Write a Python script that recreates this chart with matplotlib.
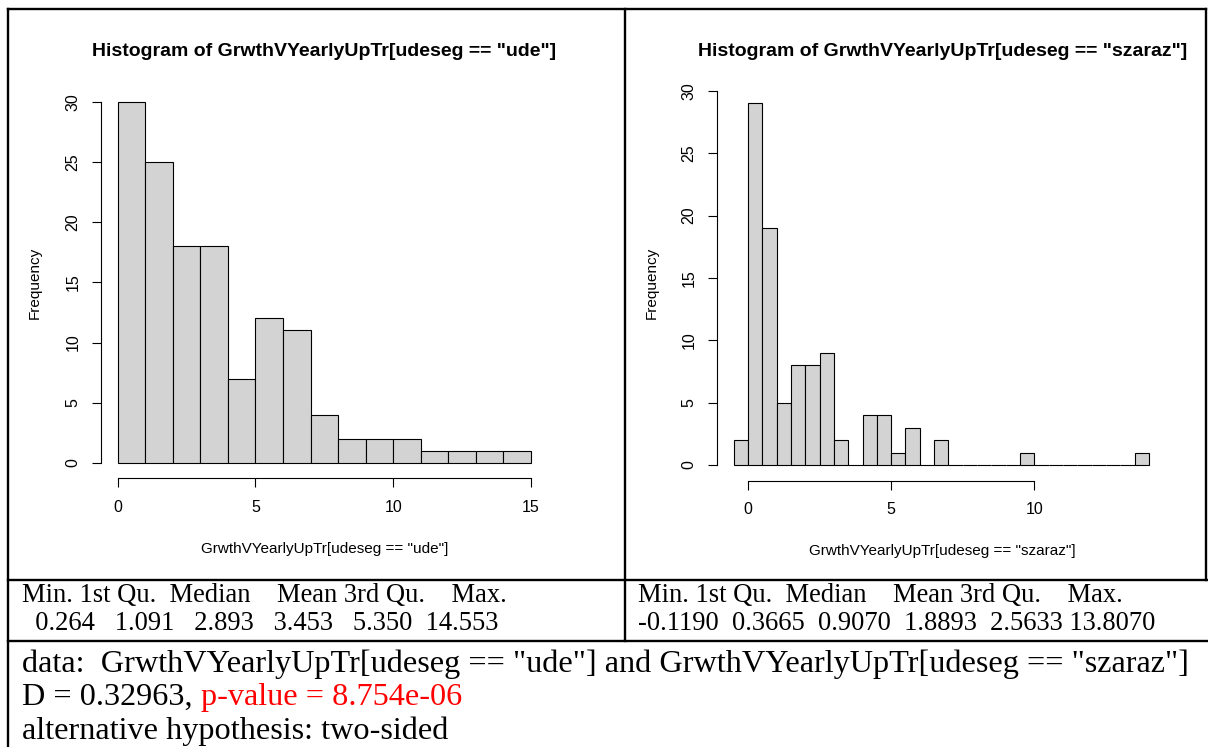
import matplotlib

matplotlib.use("Agg")

import matplotlib.pyplot as plt


WIDTH_PX = 1208
HEIGHT_PX = 747
DPI = 100

UDE_EDGES = [0, 1, 2, 3, 4, 5, 6, 7, 8, 9, 10, 11, 12, 13, 14, 15]
UDE_COUNTS = [30, 25, 18, 18, 7, 12, 11, 4, 2, 2, 2, 1, 1, 1, 1]

SZARAZ_EDGES = [-0.5, 0.0, 0.5, 1.0, 1.5, 2.0, 2.5, 3.0, 3.5, 4.0, 4.5, 5.0, 5.5, 6.0, 6.5,
                7.0, 7.5, 8.0, 8.5, 9.0, 9.5, 10.0, 10.5, 11.0, 11.5, 12.0, 12.5, 13.0, 13.5, 14.0]
SZARAZ_COUNTS = [2, 29, 19, 5, 8, 8, 9, 2, 0, 4, 4, 1, 3, 0, 2,
                 0, 0, 0, 0, 0, 1, 0, 0, 0, 0, 0, 0, 0, 1]

UDE_XTICKS = [0, 5, 10, 15]
SZARAZ_XTICKS = [0, 5, 10]
FREQ_TICKS = [0, 5, 10, 15, 20, 25, 30]

UDE_NAME = 'GrwthVYearlyUpTr[udeseg == "ude"]'
SZARAZ_NAME = 'GrwthVYearlyUpTr[udeseg == "szaraz"]'

SUMMARY_LABELS = ["Min.", "1st Qu.", "Median", "Mean", "3rd Qu.", "Max."]
UDE_SUMMARY = ["0.264", "1.091", "2.893", "3.453", "5.350", "14.553"]
SZARAZ_SUMMARY = ["-0.1190", "0.3665", "0.9070", "1.8893", "2.5633", "13.8070"]

KS_STATISTIC = "0.32963"
KS_P_VALUE = "8.754e-06"
KS_ALTERNATIVE = "two-sided"

SANS = "Liberation Sans"
SERIF = "Liberation Serif"
BAR_FILL = "#d3d3d3"


def add_px_axes(fig, left, top, right, bottom):
    return fig.add_axes([left / WIDTH_PX, 1 - bottom / HEIGHT_PX,
                         (right - left) / WIDTH_PX, (bottom - top) / HEIGHT_PX])


def r_row(values):
    # R prints a named vector with one common column width
    return " ".join(v.rjust(7) for v in values)


def draw_hist(ax, edges, counts, xticks, xlim, ylim):
    widths = [edges[i + 1] - edges[i] for i in range(len(counts))]
    ax.bar(edges[:-1], counts, width=widths, align="edge", color=BAR_FILL,
           edgecolor="black", linewidth=0.8)
    ax.set_xlim(*xlim)
    ax.set_ylim(*ylim)
    ax.set_facecolor("none")
    ax.spines["top"].set_visible(False)
    ax.spines["right"].set_visible(False)
    ax.spines["left"].set_bounds(FREQ_TICKS[0], FREQ_TICKS[-1])
    ax.spines["bottom"].set_bounds(xticks[0], xticks[-1])
    for side in ("left", "bottom"):
        ax.spines[side].set_linewidth(0.8)
    ax.set_xticks(xticks)
    ax.set_yticks(FREQ_TICKS)
    ax.tick_params(direction="out", length=6.5, width=0.8, labelsize=11.5)
    ax.tick_params(axis="x", pad=9)
    ax.tick_params(axis="y", pad=8, labelrotation=90)
    for lbl in ax.get_yticklabels():
        lbl.set_va("center")
    for lbl in ax.get_xticklabels() + ax.get_yticklabels():
        lbl.set_fontfamily(SANS)


def main():
    fig = plt.figure(figsize=(WIDTH_PX / DPI, HEIGHT_PX / DPI), dpi=DPI)

    canvas = fig.add_axes([0, 0, 1, 1])
    canvas.set_xlim(0, WIDTH_PX)
    canvas.set_ylim(HEIGHT_PX, 0)
    canvas.axis("off")

    # table rules
    rule = dict(color="black", linewidth=1.7, solid_capstyle="projecting")
    canvas.plot([7.5, 7.5], [8.5, HEIGHT_PX], **rule)
    canvas.plot([7.5, 1206], [8.5, 8.5], **rule)
    canvas.plot([1206, 1206], [8.5, 579.5], **rule)
    canvas.plot([624.5, 624.5], [8.5, 641], **rule)
    canvas.plot([7.5, WIDTH_PX], [579.5, 579.5], **rule)
    canvas.plot([7.5, WIDTH_PX], [641, 641], **rule)

    left_ax = add_px_axes(fig, 100.8, 86.8, 547.8, 478)
    draw_hist(left_ax, UDE_EDGES, UDE_COUNTS, UDE_XTICKS, (-0.61, 15.61), (-1.27, 31.27))

    right_ax = add_px_axes(fig, 716.7, 84.7, 1165.9, 480.7)
    draw_hist(right_ax, SZARAZ_EDGES, SZARAZ_COUNTS, SZARAZ_XTICKS, (-1.09, 14.59), (-1.26, 30.5))

    panels = [(324.5, 549, 35, UDE_NAME), (942.5, 551, 652, SZARAZ_NAME)]
    for cx, xlab_y, ylab_x, name in panels:
        canvas.text(cx, 52, f"Histogram of {name}", ha="center", va="center",
                    fontsize=14, fontweight="bold", family=SANS)
        canvas.text(cx, xlab_y, name, ha="center", va="center", fontsize=11, family=SANS)
        canvas.text(ylab_x, 283, "Frequency", ha="center", va="center", rotation=90,
                    fontsize=11, family=SANS)

    # summary() output rows
    summary_font = dict(fontsize=19.1, family=SERIF)
    header = r_row(SUMMARY_LABELS).lstrip()
    canvas.text(22, 595, header, ha="left", va="center", **summary_font)
    canvas.text(22, 623, r_row(UDE_SUMMARY), ha="left", va="center", **summary_font)
    canvas.text(638, 595, header, ha="left", va="center", **summary_font)
    canvas.text(638, 623, r_row(SZARAZ_SUMMARY), ha="left", va="center", **summary_font)

    # ks.test() output
    ks_font = dict(fontsize=23.2, family=SERIF)
    canvas.text(22, 664, f"data:  {UDE_NAME} and {SZARAZ_NAME}", ha="left", va="center", **ks_font)
    d_text = canvas.text(22, 697, f"D = {KS_STATISTIC}, ", ha="left", va="center", **ks_font)
    canvas.annotate(f"p-value = {KS_P_VALUE}", xy=(1, 0), xycoords=d_text,
                    ha="left", va="bottom", color="#ff0000", **ks_font)
    canvas.text(22, 731, f"alternative hypothesis: {KS_ALTERNATIVE}", ha="left", va="center", **ks_font)

    fig.savefig("out.png", dpi=DPI)
    plt.close(fig)


if __name__ == "__main__":
    main()
